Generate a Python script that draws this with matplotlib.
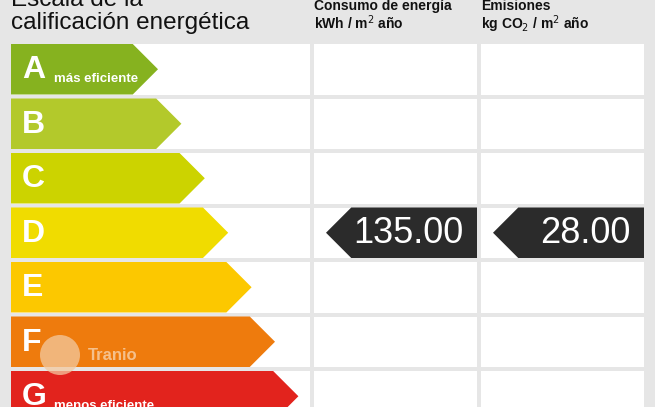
import matplotlib
matplotlib.use("Agg")
import matplotlib.pyplot as plt
from matplotlib.patches import Polygon, Rectangle, Circle

# ---- data ----
classes = ["A", "B", "C", "D", "E", "F", "G"]
class_notes = {"A": "más eficiente", "G": "menos eficiente"}
rating_consumo = "D"
rating_emisiones = "D"
consumo_value = 135.00
emisiones_value = 28.00
title_lines = ["Escala de la", "calificación energética"]
col1_header = ["Consumo de energía", "kWh / m$^2$ año"]
col2_header = ["Emisiones", "kg CO$_2$ / m$^2$ año"]

# ---- style ----
class_colors = ["#86b21f", "#b3c92b", "#ccd300", "#f0dc00", "#fcc800", "#ee7b0d", "#e2231d"]
bg = "#e6e6e6"
dark = "#2b2b2b"
plt.rcParams["font.family"] = ["Liberation Sans", "DejaVu Sans"]

fig = plt.figure(figsize=(6.55, 4.07), dpi=100, facecolor=bg)
ax = fig.add_axes([0, 0, 1, 1])
ax.set_xlim(0, 655)
ax.set_ylim(407, 0)
ax.axis("off")
ax.set_facecolor(bg)

row_top0 = 44.0
pitch = 54.5
row_h = 50.5
cols = [(11, 310), (314, 477), (481, 644)]

# white cells
for i in range(len(classes)):
    top = row_top0 + i * pitch
    for (x0, x1) in cols:
        ax.add_patch(Rectangle((x0, top), x1 - x0, row_h, facecolor="white", edgecolor="none", zorder=1))

# class arrows
for i, (c, col) in enumerate(zip(classes, class_colors)):
    top = row_top0 + i * pitch
    bot = top + row_h
    mid = (top + bot) / 2
    tip = 158 + i * 23.4
    depth = row_h / 2
    poly = Polygon([(11, top), (tip - depth, top), (tip, mid), (tip - depth, bot), (11, bot)],
                   closed=True, facecolor=col, edgecolor="none", zorder=2)
    ax.add_patch(poly)
    ax.text(22, mid + 1, c, color="white", fontsize=23, fontweight="bold",
            ha="left", va="center", zorder=3)
    if c in class_notes:
        ax.text(54, mid + 13, class_notes[c], color="white", fontsize=9.5, fontweight="bold",
                ha="left", va="baseline", zorder=3)

# value markers
def marker(col_idx, rating, value):
    i = classes.index(rating)
    top = row_top0 + i * pitch
    bot = top + row_h
    mid = (top + bot) / 2
    x0, x1 = cols[col_idx]
    tip = x0 + 12
    depth = row_h / 2
    poly = Polygon([(tip, mid), (tip + depth, top), (x1, top), (x1, bot), (tip + depth, bot)],
                   closed=True, facecolor=dark, edgecolor="none", zorder=2)
    ax.add_patch(poly)
    ax.text(x1 - 14, mid + 1, f"{value:.2f}", color="white", fontsize=26,
            ha="right", va="center", zorder=3)

marker(1, rating_consumo, consumo_value)
marker(2, rating_emisiones, emisiones_value)

# headers
ax.text(11, 6, title_lines[0], fontsize=17.5, color="#111111", ha="left", va="baseline")
ax.text(11, 29, title_lines[1], fontsize=17.5, color="#111111", ha="left", va="baseline")
ax.text(314, 10, col1_header[0], fontsize=10, fontweight="bold", color="#111111", ha="left", va="baseline")
ax.text(314, 29, col1_header[1], fontsize=10, fontweight="bold", color="#111111", ha="left", va="baseline")
ax.text(481, 10, col2_header[0], fontsize=10, fontweight="bold", color="#111111", ha="left", va="baseline")
ax.text(481, 29, col2_header[1], fontsize=10, fontweight="bold", color="#111111", ha="left", va="baseline")

# watermark
ax.add_patch(Circle((60, 355), 20, facecolor="#f3c9a0", edgecolor="none", alpha=0.75, zorder=4))
ax.text(88, 356, "Tranio", fontsize=12, fontweight="bold", color="#f6c89a", alpha=0.9,
        ha="left", va="center", zorder=4)

fig.savefig("out.png", dpi=100, facecolor=bg)
